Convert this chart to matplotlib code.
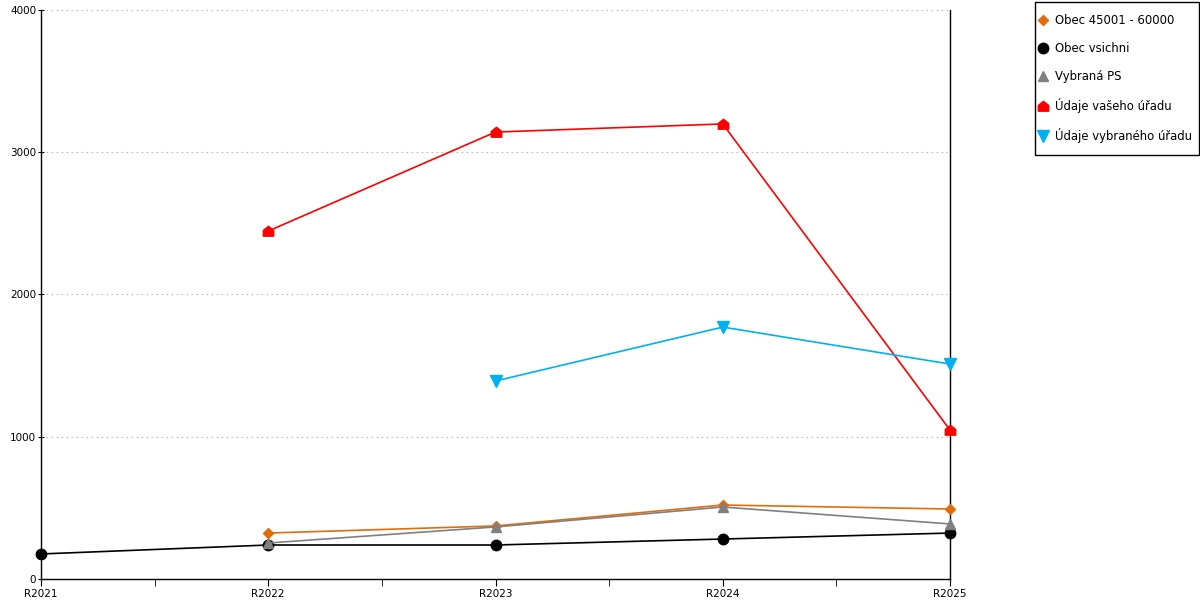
import numpy as np
import matplotlib.pyplot as plt
from matplotlib.path import Path
from matplotlib.lines import Line2D
from matplotlib.patches import Rectangle

years = ["R2021", "R2022", "R2023", "R2024", "R2025"]

obec_45001 = [np.nan, 323, 373, 520, 492]
obec_vsichni = [176, 239, 239, 281, 323]
vybrana_ps = [np.nan, 253, 366, 506, 387]
vas_urad = [np.nan, 2446, 3142, 3199, 1047]
vybrany_urad = [np.nan, np.nan, 1392, 1771, 1511]

labels = ["Obec 45001 - 60000", "Obec vsichni", "Vybraná PS",
          "Údaje vašeho úřadu", "Údaje vybraného úřadu"]

# house shaped marker
house = Path([(-1, -0.9), (1, -0.9), (1, 0.2), (0, 1), (-1, 0.2), (-1, -0.9)],
             [Path.MOVETO, Path.LINETO, Path.LINETO, Path.LINETO, Path.LINETO, Path.CLOSEPOLY])


def main():
    plt.rcParams['font.family'] = ['DejaVu Sans']
    fig = plt.figure(figsize=(12, 6), dpi=100)
    W, H = 1200, 600
    ax = fig.add_axes([41 / W, 1 - 579 / H, (950 - 41) / W, (579 - 10) / H])

    x = np.arange(len(years))
    series = [
        (obec_45001, "#e36c0a", "D", 5.5),
        (obec_vsichni, "black", "o", 7.5),
        (vybrana_ps, "gray", "^", 7.5),
        (vas_urad, "red", house, 7.5),
        (vybrany_urad, "#00b0f0", "v", 8),
    ]
    handles = []
    for (vals, col, mk, ms), lab in zip(series, labels):
        ax.plot(x, vals, color=col, marker=mk, markersize=ms, linewidth=1.2,
                clip_on=False, zorder=3)
        handles.append(Line2D([], [], color=col, marker=mk, markersize=ms,
                              linestyle='None', label=lab))

    ax.set_xlim(0, 4)
    ax.set_ylim(0, 4000)
    ax.set_xticks(x)
    ax.set_xticklabels(years)
    ax.set_xticks(x[:-1] + 0.5, minor=True)
    ax.set_yticks([0, 1000, 2000, 3000, 4000])
    ax.tick_params(axis='x', which='both', direction='out', length=5, labelsize=7.5, pad=2)
    ax.tick_params(axis='y', direction='inout', length=5, labelsize=7.5, pad=1)
    ax.grid(axis='y', color='#bbbbbb', linestyle=(0, (1.5, 3)), linewidth=0.8)
    ax.spines['top'].set_visible(False)
    for s in ['left', 'bottom', 'right']:
        ax.spines[s].set_color('black')
        ax.spines[s].set_linewidth(1)

    fig.legend(handles=handles, loc='upper left',
               bbox_to_anchor=(1038.5 / W, 1 - 14 / H),
               frameon=False, fontsize=8.4,
               handlelength=0.8, handletextpad=0.62, labelspacing=1.29,
               borderpad=0, borderaxespad=0)
    fig.patches.append(Rectangle((1034.5 / W, 1 - 155 / H), 164 / W, 153 / H,
                                 transform=fig.transFigure, fill=False,
                                 edgecolor='black', linewidth=1))

    fig.savefig("out.png", dpi=100)


if __name__ == "__main__":
    main()
